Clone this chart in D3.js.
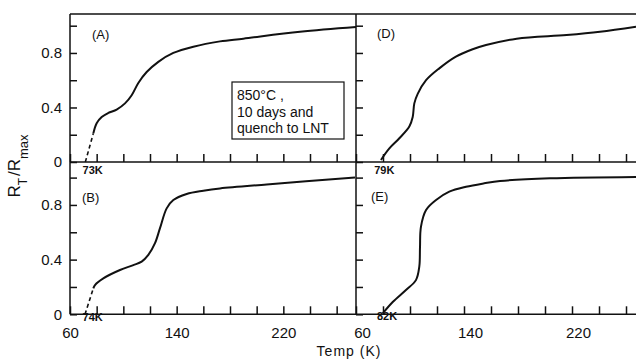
<!DOCTYPE html>
<html lang="en">
<head>
<meta charset="utf-8">
<title>RT/Rmax vs Temp</title>
<script src="https://cdn.jsdelivr.net/npm/d3@7/dist/d3.min.js"></script>
<style>
body { margin: 0; background: #fff; }
svg text { font-family: "Liberation Sans", Arial, sans-serif; fill: #111; }
.axis path, .axis line { stroke: #111; stroke-width: 1.5; }
.axis text { font-size: 14px; }
</style>
</head>
<body>
<script>
// panel A - dashed foot then solid
var tempA_dash = [71.5, 77.5];
var rA_dash = [0, 0.21];
var tempA = [77.5, 80, 83.75, 88.75, 95, 101.25, 106.25, 111.25, 117.5, 126.25, 137.5, 152.5, 172.5, 190, 232.5, 274.5];
var rA = [0.21, 0.284, 0.33, 0.36, 0.385, 0.43, 0.49, 0.58, 0.66, 0.735, 0.80, 0.846, 0.885, 0.905, 0.955, 0.99];

// panel B
var tempB_dash = [71.25, 77.5];
var rB_dash = [0, 0.19];
var tempB = [77.5, 78.75, 85, 97.5, 107.5, 113.75, 118.75, 123.75, 127.5, 132.5, 137.5, 147.5, 160, 172.5, 207.5, 273.75];
var rB = [0.19, 0.214, 0.263, 0.324, 0.36, 0.385, 0.434, 0.52, 0.63, 0.775, 0.836, 0.88, 0.904, 0.921, 0.95, 1.0];

// panel D
var tempD = [78.5, 84.7, 92.1, 99.5, 102, 103.2, 105.7, 111.9, 121.7, 134, 146.4, 156.3, 179, 216, 240.7, 267.4];
var rD = [0.015, 0.10, 0.174, 0.26, 0.33, 0.43, 0.50, 0.60, 0.687, 0.773, 0.827, 0.858, 0.905, 0.932, 0.956, 0.993];

// panel E
var tempE = [79.8, 87.2, 97, 104.4, 106.9, 107.4, 108.1, 111.9, 119.3, 129.1, 141.5, 155, 166.7, 203.7, 267.4];
var rE = [0.007, 0.09, 0.178, 0.25, 0.35, 0.49, 0.64, 0.763, 0.836, 0.897, 0.933, 0.958, 0.975, 0.995, 1.005];

var xTicks = [60, 80, 100, 120, 140, 160, 180, 200, 220, 240, 260];
var xLabels = [60, 140, 220];
var yTicks = [0, 0.2, 0.4, 0.6, 0.8, 1.0];
var yLabels = { 0: "0", 0.4: "0.4", 0.8: "0.8" };

var w = 636, h = 359;
var svg = d3.select("body").append("svg").attr("width", w).attr("height", h);

var xLeft = d3.scaleLinear().domain([60, 274.5]).range([70, 356]);
var xRight = d3.scaleLinear().domain([60, 267.4]).range([356, 636]);
var yTop = d3.scaleLinear().domain([0, 1]).range([162, 25.7]);
var yBot = d3.scaleLinear().domain([0, 1]).range([314.3, 177.6]);

function toPts(t, r) { return t.map(function (d, i) { return [d, r[i]]; }); }

var panels = [
  { x: xLeft, y: yTop, top: 14, pts: toPts(tempA, rA), dash: toPts(tempA_dash, rA_dash), label: "(A)", lx: 22, ly: 13, tc: "73K", tcT: 77, tcY: 12, labels: false, yLab: true },
  { x: xLeft, y: yBot, top: 162, pts: toPts(tempB, rB), dash: toPts(tempB_dash, rB_dash), label: "(B)", lx: 12, ly: 24, tc: "74K", tcT: 77, tcY: 7, labels: true, yLab: true },
  { x: xRight, y: yTop, top: 14, pts: toPts(tempD, rD), dash: null, label: "(D)", lx: 21, ly: 12, tc: "79K", tcT: 81, tcY: 12, labels: false, yLab: false },
  { x: xRight, y: yBot, top: 162, pts: toPts(tempE, rE), dash: null, label: "(E)", lx: 15, ly: 23, tc: "82K", tcT: 83, tcY: 6, labels: true, yLab: false }
];

panels.forEach(function (p) {
  var x = p.x, y = p.y;
  var x0 = x.range()[0], x1 = (x === xRight ? w : x.range()[1]);

  // bottom axis, ticks point up
  var xa = d3.axisBottom(x).tickValues(xTicks).tickSizeInner(-8).tickSizeOuter(0).tickPadding(13)
    .tickFormat(function (d) { return p.labels && xLabels.indexOf(d) >= 0 ? d : ""; });
  var gx = svg.append("g").attr("class", "axis").attr("transform", "translate(0," + y(0) + ")").call(xa);
  gx.select(".domain").attr("d", "M" + x0 + ",0H" + x1);
  if (x === xRight) gx.selectAll(".tick text").attr("dx", 6);
  gx.selectAll(".tick text").style("font-size", "15px");

  // left axis, ticks point right
  var ya = d3.axisLeft(y).tickValues(yTicks).tickSizeInner(-7).tickSizeOuter(0).tickPadding(8)
    .tickFormat(function (d) { return p.yLab && yLabels[d] !== undefined ? yLabels[d] : ""; });
  var gy = svg.append("g").attr("class", "axis").attr("transform", "translate(" + x0 + ",0)").call(ya);
  gy.select(".domain").attr("d", "M0," + y(0) + "V" + p.top);
  gy.selectAll(".tick text").style("font-size", "15px");

  var line = d3.line().x(function (d) { return x(d[0]); }).y(function (d) { return y(d[1]); })
    .curve(d3.curveCatmullRom.alpha(0.5));
  svg.append("path").datum(p.pts).attr("d", line)
    .attr("fill", "none").attr("stroke", "#111").attr("stroke-width", 2);
  if (p.dash) {
    svg.append("path").datum(p.dash).attr("d", d3.line().x(function (d) { return x(d[0]); }).y(function (d) { return y(d[1]); }))
      .attr("fill", "none").attr("stroke", "#111").attr("stroke-width", 1.6).attr("stroke-dasharray", "4,3");
  }

  svg.append("text").attr("x", x0 + p.lx).attr("y", y(1) + p.ly)
    .attr("font-size", 13).text(p.label);
  svg.append("text").attr("x", x(p.tcT)).attr("y", y(0) + p.tcY)
    .attr("text-anchor", "middle").attr("font-size", 11).attr("font-weight", "bold").text(p.tc);
});

// top frame line
svg.append("line").attr("x1", 70).attr("x2", w).attr("y1", 14).attr("y2", 14)
  .attr("stroke", "#111").attr("stroke-width", 1.5);

// annotation box
var box = svg.append("g").attr("transform", "translate(232,82)");
box.append("rect").attr("width", 112).attr("height", 57).attr("fill", "#fff")
  .attr("stroke", "#111").attr("stroke-width", 1.2);
["850\u00b0C ,", "10 days and", "quench to LNT"].forEach(function (t, i) {
  box.append("text").attr("x", 5).attr("y", 18 + i * 16.5).attr("font-size", 14).text(t);
});

// axis titles
svg.append("text").attr("transform", "translate(20,166) rotate(-90)").attr("text-anchor", "middle")
  .attr("font-size", 17)
  .html('R<tspan baseline-shift="sub" font-size="12">T</tspan><tspan dx="2">/</tspan>R<tspan baseline-shift="sub" font-size="13">max</tspan>');
svg.append("text").attr("x", 349).attr("y", 356).attr("text-anchor", "middle")
  .attr("font-size", 14).attr("letter-spacing", 1).text("Temp (K)");
</script>
</body>
</html>
